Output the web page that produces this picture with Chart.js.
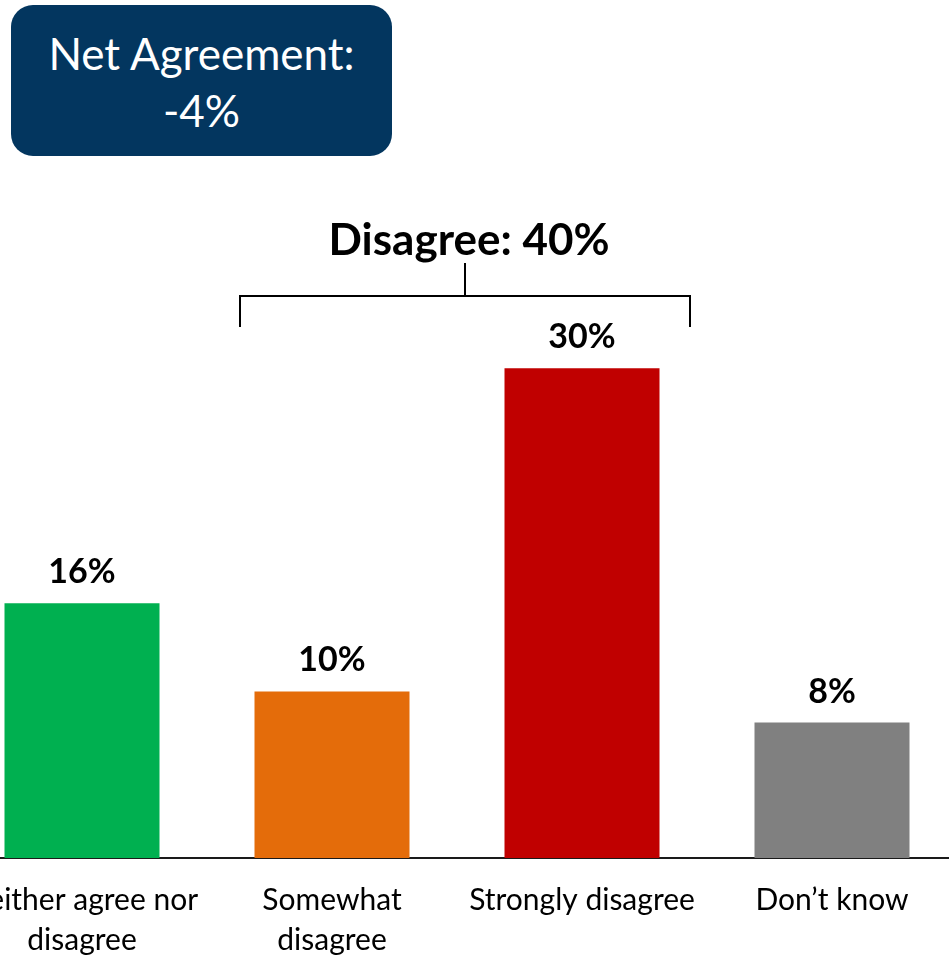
<!DOCTYPE html>
<html>
<head>
<meta charset="utf-8">
<script src="https://cdn.jsdelivr.net/npm/chart.js@4"></script>
<style>
  html, body { margin: 0; padding: 0; background: #fff; overflow: hidden; width: 949px; height: 959px; }
  #wrap { position: relative; width: 949px; height: 959px; overflow: hidden; }
  #chart { position: absolute; left: -43px; top: 0; }
  #net {
    position: absolute; left: 11px; top: 5px; width: 381px; height: 151px;
    background: #03365f; border-radius: 22px; color: #fff;
    font-family: Lato, sans-serif; font-size: 44px; line-height: 57px;
    text-align: center; box-sizing: border-box; padding-top: 20px;
  }
</style>
</head>
<body>
<div id="wrap">
  <canvas id="chart" width="1000" height="959"></canvas>
  <div id="net">Net Agreement:<br>-4%</div>
</div>
<script>
const categories = [['Neither agree nor', 'disagree'], ['Somewhat', 'disagree'], 'Strongly disagree', 'Don\u2019t know'];
const values = [15.6, 10.2, 30, 8.3];
const barColors = ['#00b050', '#e46c0a', '#c00000', '#808080'];
const groupLabel = 'Disagree: 40%';

const overlay = {
  id: 'overlay',
  afterDatasetsDraw(chart) {
    const ctx = chart.ctx;
    const meta = chart.getDatasetMeta(0);
    ctx.save();
    ctx.fillStyle = '#000';
    ctx.textAlign = 'center';
    ctx.textBaseline = 'alphabetic';
    ctx.font = 'bold 34px Lato, sans-serif';
    meta.data.forEach((bar, i) => {
      ctx.fillText(Math.round(values[i]) + '%', bar.x, bar.y - 20);
    });

    // bracket over the disagree bars
    const x1 = meta.data[1].x - 92;
    const x2 = meta.data[2].x + 108;
    const xm = (x1 + x2) / 2;
    ctx.strokeStyle = '#000';
    ctx.lineWidth = 2;
    ctx.beginPath();
    ctx.moveTo(x1, 327); ctx.lineTo(x1, 296); ctx.lineTo(x2, 296); ctx.lineTo(x2, 327);
    ctx.moveTo(xm, 296); ctx.lineTo(xm, 263);
    ctx.stroke();
    ctx.font = 'bold 44px Lato, sans-serif';
    ctx.fillText(groupLabel, xm + 4, 255);
    ctx.restore();
  }
};

const chart = new Chart(document.getElementById('chart').getContext('2d'), {
  type: 'bar',
  data: {
    labels: categories,
    datasets: [{
      data: values,
      backgroundColor: barColors,
      categoryPercentage: 1,
      barPercentage: 0.62
    }]
  },
  options: {
    responsive: false,
    animation: false,
    layout: { padding: { top: 205, left: 0, right: 0, bottom: 0 } },
    plugins: { legend: { display: false }, tooltip: { enabled: false } },
    scales: {
      x: {
        grid: { display: false, drawTicks: false },
        border: { display: true, color: '#1a1a1a', width: 2 },
        ticks: {
          color: '#000',
          font: { family: 'Lato, sans-serif', size: 30, lineHeight: '40px' },
          padding: 22,
          maxRotation: 0,
          autoSkip: false
        },
        afterFit(scale) {
          scale.height = 101;
          scale.paddingLeft = 0;
          scale.paddingRight = 0;
        }
      },
      y: {
        display: false,
        min: 0,
        max: 40
      }
    }
  },
  plugins: [overlay]
});
</script>
</body>
</html>
